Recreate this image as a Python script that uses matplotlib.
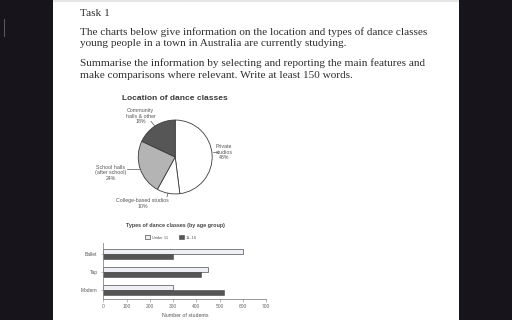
import numpy as np
import matplotlib.pyplot as plt
from matplotlib.patches import Rectangle
from matplotlib.lines import Line2D

# pie data
pie_labels = ["Private studios", "College-based studios", "School halls (after school)", "Community halls & other"]
pie_values = [48, 10, 24, 18]
pie_colors = ["#ffffff", "#ffffff", "#b4b4b4", "#565656"]

# bar data
dance_types = ["Ballet", "Tap", "Modern"]
under_11 = [600, 450, 300]
age_11_16 = [300, 420, 520]
x_ticks = [0, 100, 200, 300, 400, 500, 600, 700]

W, H = 512, 320


def fx(x):
    return x / W


def fy(y):
    return 1 - y / H


fig = plt.figure(figsize=(W / 100, H / 100), dpi=100, facecolor="#17141b")

# page
fig.add_artist(Rectangle((fx(53), 0), fx(459) - fx(53), 1, transform=fig.transFigure,
                         facecolor="white", edgecolor="none", zorder=-10))
fig.add_artist(Rectangle((fx(53), fy(1.5)), fx(459) - fx(53), 1.5 / H, transform=fig.transFigure,
                         facecolor="#e6e6e6", edgecolor="none", zorder=-9))
fig.add_artist(Rectangle((fx(3.6), fy(37)), 1.3 / W, 18 / H, transform=fig.transFigure,
                         facecolor="#5a5a5a", edgecolor="none", zorder=-9))
fig.text(fx(192), fy(4), "...", fontsize=3, color="#cccccc", ha="center", va="center")

body = dict(family="Liberation Serif", fontsize=8.1, color="#2e2e2e", va="center", ha="left")
fig.text(fx(80.5), fy(13.3), "Task 1", **body)
fig.text(fx(80.5), fy(31.7), "The charts below give information on the location and types of dance classes", **body)
fig.text(fx(80.5), fy(43.5), "young people in a town in Australia are currently studying.", **body)
fig.text(fx(80.5), fy(63.3), "Summarise the information by selecting and reporting the main features and", **body)
fig.text(fx(80.5), fy(75.2), "make comparisons where relevant. Write at least 150 words.", **body)

# pie chart
cx, cy, r = 175.2, 157, 37.7
ax1 = fig.add_axes([fx(cx - r), fy(cy + r), 2 * r / W, 2 * r / H])
ax1.pie(pie_values, colors=pie_colors, startangle=90, counterclock=False,
        wedgeprops=dict(edgecolor="#3c3c3c", linewidth=0.6))
ax1.set_xlim(-1.02, 1.02)
ax1.set_ylim(-1.02, 1.02)
ax1.axis("off")

fig.text(fx(175), fy(99), "Location of dance classes", family="Liberation Sans", fontweight="bold",
         fontsize=6.0, color="#3a3a3a", ha="center", va="center")

small = dict(family="Liberation Sans", fontsize=3.8, color="#555555", ha="center", va="center",
             linespacing=1.15)
fig.text(fx(140.5), fy(116), "Community\nhalls & other\n18%", **small)
fig.text(fx(111), fy(172.7), "School halls\n(after school)\n24%", **small)
fig.text(fx(224), fy(152), "Private\nstudios\n48%", **small)
fig.text(fx(142.5), fy(203.5), "College-based studios\n10%", **small)

leaders = [((151, 121.3), (154.5, 125.8)),
           ((127, 169), (139, 169)),
           ((212.5, 152), (216.5, 152)),
           ((168, 193), (167, 197))]
for (x0, y0), (x1, y1) in leaders:
    fig.add_artist(Line2D([fx(x0), fx(x1)], [fy(y0), fy(y1)], transform=fig.transFigure,
                          color="#555555", linewidth=0.5))

# bar chart
ax2 = fig.add_axes([fx(103.3), fy(299), (266 - 103.3) / W, 56 / H])
y = np.arange(len(dance_types))
h = 0.276
ax2.barh(y - h / 2, under_11, height=h, color="#eef0f6", edgecolor="#6a6a6a", linewidth=0.6, label="Under 11")
ax2.barh(y + h / 2, age_11_16, height=h, color="#555555", edgecolor="#484848", linewidth=0.4, label="11\u201316")
ax2.set_xlim(0, 700)
ax2.set_ylim(2.47, -0.62)
ax2.set_xticks(x_ticks)
ax2.set_xticklabels([str(t) for t in x_ticks], family="Liberation Sans", fontsize=3.5, color="#666666")
ax2.set_yticks(y)
ax2.set_yticklabels(dance_types, family="Liberation Sans", fontsize=3.5, color="#555555")
ax2.tick_params(axis="x", length=1.8, width=0.4, color="#888888", pad=2)
ax2.tick_params(axis="y", length=1.2, width=0.4, color="#888888", pad=3)
for side in ["top", "right"]:
    ax2.spines[side].set_visible(False)
for side in ["left", "bottom"]:
    ax2.spines[side].set_color("#888888")
    ax2.spines[side].set_linewidth(0.6)
ax2.set_facecolor("none")

fig.text(fx(185), fy(315.7), "Number of students", family="Liberation Sans", fontsize=3.8,
         color="#555555", ha="center", va="center")
fig.text(fx(175.5), fy(225), "Types of dance classes (by age group)", family="Liberation Sans",
         fontweight="bold", fontsize=3.9, color="#444444", ha="center", va="center")
ax2.legend(loc="center", bbox_to_anchor=(fx(171), fy(237.3)), bbox_transform=fig.transFigure,
           ncol=2, frameon=False, prop=dict(family="Liberation Sans", size=2.9),
           handlelength=1.2, handleheight=1.2, handletextpad=0.55, columnspacing=2.7,
           labelcolor="#555555")

plt.savefig("out.png", dpi=100, facecolor=fig.get_facecolor())
plt.close()
